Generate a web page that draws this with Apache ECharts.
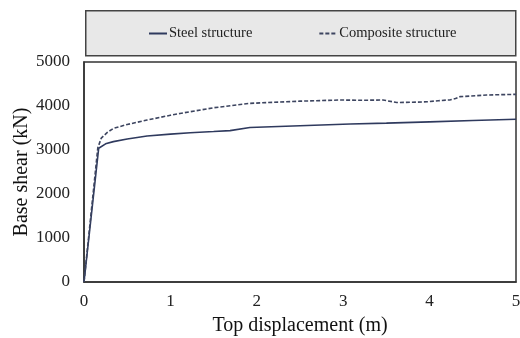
<!DOCTYPE html>
<html><head><meta charset="utf-8">
<script src="https://cdn.jsdelivr.net/npm/echarts@6/dist/echarts.min.js"></script>
<style>html,body{margin:0;padding:0;background:#fff}#c{width:520px;height:338px}</style>
</head><body><div id="c"></div>
<script>
const seriesNames = ['Steel structure', 'Composite structure'];
const steelX = [0, 0.17, 0.25, 0.34, 0.5, 0.73, 1.0, 1.23, 1.5, 1.69, 1.92, 2.5, 3.08, 3.5, 4.0, 4.5, 5.0];
const steelY = [0, 3040, 3140, 3190, 3250, 3318, 3360, 3393, 3420, 3440, 3510, 3550, 3590, 3610, 3640, 3670, 3700];
const compX = [0, 0.16, 0.2, 0.27, 0.34, 0.5, 0.73, 1.0, 1.11, 1.5, 1.92, 2.5, 2.96, 3.2, 3.46, 3.62, 3.8, 3.97, 4.1, 4.24, 4.3, 4.35, 4.66, 5.0];
const compY = [0, 3050, 3270, 3400, 3490, 3580, 3680, 3790, 3830, 3960, 4060, 4110, 4136, 4130, 4136, 4080, 4085, 4095, 4120, 4140, 4170, 4212, 4250, 4265];
const xTicks = [0, 1, 2, 3, 4, 5];
const yTicks = [0, 1000, 2000, 3000, 4000, 5000];

const steelData = steelX.map((x, i) => [x, steelY[i]]);
const compData = compX.map((x, i) => [x, compY[i]]);
const font = 'Liberation Serif';
const chart = echarts.init(document.getElementById('c'), null, {renderer: 'canvas'});
chart.setOption({
  animation: false,
  textStyle: {fontFamily: font},
  graphic: [{
    type: 'rect', left: 85, top: 10, z: -10, silent: true,
    shape: {width: 430, height: 45},
    style: {fill: '#e8e8e8', stroke: '#444', lineWidth: 1.5}
  }],
  legend: {
    top: 21, left: 143, itemGap: 66, itemWidth: 18, itemHeight: 10,
    data: seriesNames,
    itemStyle: {opacity: 0},
    textStyle: {fontFamily: font, fontSize: 14.5, color: '#222', padding: [0, 0, 0, -3]},
    z: 10
  },
  grid: {left: 84, right: 4, top: 62, bottom: 56, show: true, borderColor: '#333', borderWidth: 1.5,
    backgroundColor: 'transparent', outerBoundsMode: 'none', containLabel: false},
  xAxis: {
    type: 'value', min: 0, max: 5, interval: 1,
    name: 'Top displacement (m)', nameLocation: 'middle', nameGap: 34,
    nameTextStyle: {fontFamily: font, fontSize: 20, color: '#111'},
    axisLine: {show: true, lineStyle: {color: '#333', width: 1.5}},
    axisTick: {show: false}, splitLine: {show: false},
    axisLabel: {fontFamily: font, fontSize: 17, color: '#222', margin: 11,
      formatter: v => xTicks.includes(v) ? String(v) : ''}
  },
  yAxis: {
    type: 'value', min: 0, max: 5000, interval: 1000,
    name: 'Base shear (kN)', nameLocation: 'middle', nameGap: 52, nameMoveOverlap: false,
    nameTextStyle: {fontFamily: font, fontSize: 20, color: '#111'},
    axisLine: {show: true, lineStyle: {color: '#333', width: 1.5}},
    axisTick: {show: false}, splitLine: {show: false},
    axisLabel: {fontFamily: font, fontSize: 17, color: '#222', margin: 14,
      formatter: v => yTicks.includes(v) ? String(v) : ''}
  },
  series: [
    {name: seriesNames[0], type: 'line', data: steelData, showSymbol: false, symbol: 'none',
     lineStyle: {color: '#2f3a5e', width: 1.6}, itemStyle: {color: '#2f3a5e'}},
    {name: seriesNames[1], type: 'line', data: compData, showSymbol: false, symbol: 'none',
     lineStyle: {color: '#3d4560', width: 1.6, type: [4, 2]}, itemStyle: {color: '#3d4560'}}
  ]
});
</script></body></html>
